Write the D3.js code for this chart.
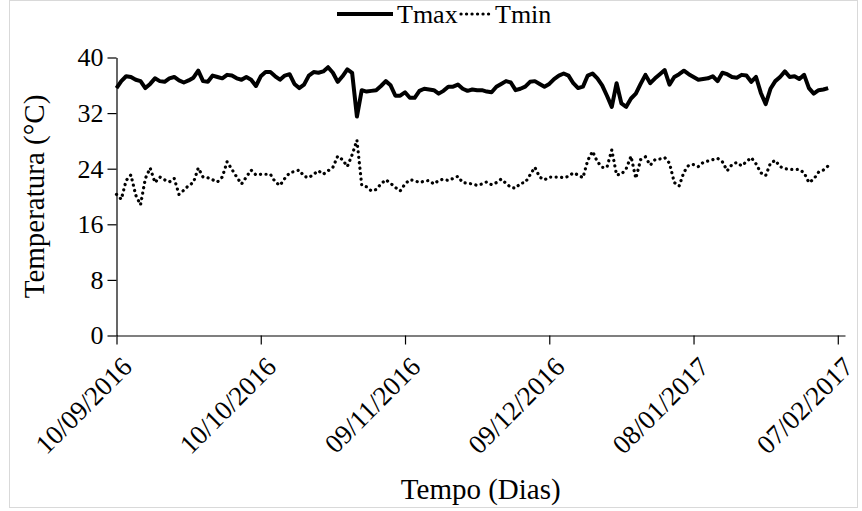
<!DOCTYPE html>
<html>
<head>
<meta charset="utf-8">
<script src="https://cdn.jsdelivr.net/npm/d3@7"></script>
<style>
  html, body { margin: 0; padding: 0; background: #fff; }
  #chart text { font-family: "Liberation Serif", "Times New Roman", Georgia !important; }
</style>
</head>
<body>
<div id="chart"></div>
<script>
/* Daily Tmax / Tmin, 10/09/2016 onwards (one value per day) */
const START_DATE = '2016-09-10';
const tmax = [
  35.6, 36.6, 37.3, 37.2, 36.8, 36.6, 35.6, 36.2, 37.0, 36.6,
  36.5, 37.0, 37.2, 36.7, 36.4, 36.7, 37.1, 38.1, 36.6, 36.5,
  37.4, 37.2, 37.0, 37.5, 37.4, 37.0, 36.8, 37.2, 36.8, 35.9,
  37.3, 37.9, 37.9, 37.3, 36.8, 37.4, 37.6, 36.2, 35.6, 36.1,
  37.4, 37.9, 37.8, 38.0, 38.6, 37.8, 36.5, 37.3, 38.3, 37.8,
  31.5, 35.3, 35.1, 35.2, 35.3, 35.9, 36.6, 36.0, 34.5, 34.5,
  35.0, 34.2, 34.2, 35.2, 35.5, 35.4, 35.3, 34.8, 35.2, 35.8,
  35.8, 36.1, 35.5, 35.2, 35.4, 35.3, 35.3, 35.1, 35.0, 35.8,
  36.2, 36.6, 36.4, 35.3, 35.5, 35.8, 36.5, 36.6, 36.2, 35.8,
  36.2, 36.9, 37.4, 37.7, 37.4, 36.3, 35.6, 35.8, 37.4, 37.7,
  37.0, 36.0, 34.5, 32.9, 36.3, 33.4, 32.9, 34.1, 34.8, 36.2,
  37.5, 36.3, 37.0, 37.6, 38.2, 36.1, 37.2, 37.6, 38.1, 37.6,
  37.2, 36.8, 36.9, 37.0, 37.3, 36.6, 37.8, 37.6, 37.2, 37.1,
  37.5, 37.4, 36.5, 37.2, 34.9, 33.3, 35.5, 36.6, 37.2, 38.0,
  37.2, 37.3, 36.9, 37.5, 35.6, 34.8, 35.3, 35.4, 35.6
];
const tmin = [
  20.3, 19.6, 22.3, 23.1, 20.2, 18.8, 22.6, 24.1, 22.0, 22.8,
  22.4, 22.1, 22.6, 20.3, 20.9, 21.6, 22.0, 24.1, 22.8, 22.7,
  22.4, 22.1, 22.8, 25.0, 23.9, 22.8, 21.8, 22.8, 23.8, 23.1,
  23.2, 23.2, 23.2, 22.1, 21.6, 22.6, 23.4, 23.6, 23.8, 22.9,
  22.7, 23.2, 23.7, 23.2, 23.7, 24.2, 25.8, 25.3, 24.3, 26.0,
  28.1, 21.6, 21.4, 20.8, 21.0, 21.8, 22.4, 21.9, 21.3, 20.8,
  21.8, 22.4, 22.3, 22.0, 22.2, 22.3, 21.8, 22.3, 22.5, 22.3,
  22.6, 22.9, 22.0, 21.9, 21.8, 21.6, 21.8, 22.1, 21.7, 22.0,
  22.5, 21.9, 21.3, 21.2, 21.9, 22.0, 23.1, 24.2, 22.8, 22.4,
  22.8, 22.8, 22.8, 22.7, 22.9, 23.4, 23.1, 22.7, 25.2, 26.5,
  25.0, 24.2, 24.2, 26.7, 23.1, 23.2, 24.0, 25.8, 22.6, 25.3,
  25.7, 24.5, 25.3, 25.4, 25.6, 24.8, 22.0, 21.5, 23.5, 24.5,
  24.6, 24.3, 24.9, 25.1, 25.3, 25.5, 25.0, 23.7, 24.6, 24.9,
  24.4, 25.0, 25.6, 24.7, 23.4, 23.0, 24.8, 25.2, 24.3, 24.0,
  23.9, 23.9, 23.9, 23.4, 22.0, 22.5, 23.5, 23.8, 24.4
];
const xTickLabels = ['10/09/2016', '10/10/2016', '09/11/2016', '09/12/2016', '08/01/2017', '07/02/2017'];
const yTicks = [0, 8, 16, 24, 32, 40];
const seriesNames = ['Tmax', 'Tmin'];

/* ── Layout ─────────────────────────────────────────────── */
const W = 862, H = 511;
const M = { left: 116.5, right: 845, top: 57.5, bottom: 335.5 };
const FONT = 'Liberation Serif';

const parse = d3.utcParse('%d/%m/%Y');
const start = d3.utcParse('%Y-%m-%d')(START_DATE);
const dayAt = i => d3.utcDay.offset(start, i);
const rows = tmax.map((v, i) => ({ date: dayAt(i), tmax: v, tmin: tmin[i] }));

const x = d3.scaleUtc()
  .domain([start, d3.utcHour.offset(start, 151.5 * 24)])
  .range([M.left, M.right]);
const y = d3.scaleLinear().domain([0, 40]).range([M.bottom, M.top]);

const svg = d3.select('#chart').append('svg')
  .attr('width', W).attr('height', H)
  .attr('font-family', FONT);

// chart area frame
svg.append('rect')
  .attr('x', 9.5).attr('y', 0.5)
  .attr('width', W - 14).attr('height', H - 4)
  .attr('fill', '#fff').attr('stroke', '#d9d9d9').attr('stroke-width', 1);

/* ── Axes ───────────────────────────────────────────────── */
const yAxis = svg.append('g')
  .attr('transform', `translate(${M.left},0)`)
  .call(d3.axisLeft(y).tickValues(yTicks).tickSize(9).tickPadding(4).tickSizeOuter(0));
yAxis.attr('font-family', FONT).attr('font-size', 26);
yAxis.select('.domain').attr('stroke', '#000').attr('stroke-width', 1.2);
yAxis.selectAll('.tick line').attr('stroke', '#000').attr('stroke-width', 1.2);
yAxis.selectAll('.tick text').attr('fill', '#000');

const xAxis = svg.append('g')
  .attr('transform', `translate(0,${M.bottom})`)
  .call(d3.axisBottom(x).tickValues(xTickLabels.map(parse)).tickSize(9).tickSizeOuter(0).tickFormat(''));
xAxis.select('.domain').attr('stroke', '#000').attr('stroke-width', 1.2);
xAxis.selectAll('.tick line').attr('stroke', '#000').attr('stroke-width', 1.2);
xAxis.selectAll('.tick text').remove();

svg.append('g').selectAll('text')
  .data(xTickLabels)
  .join('text')
  .attr('transform', d => `translate(${x(parse(d)) + 17},${M.bottom + 33}) rotate(-45)`)
  .attr('text-anchor', 'end')
  .attr('font-family', FONT)
  .attr('font-size', 27)
  .attr('fill', '#000')
  .text(d => d);

// axis titles
svg.append('text')
  .attr('transform', `translate(44,${(M.top + M.bottom) / 2}) rotate(-90)`)
  .attr('text-anchor', 'middle')
  .attr('font-family', FONT)
  .attr('font-size', 29)
  .text('Temperatura (°C)');

svg.append('text')
  .attr('x', (M.left + M.right) / 2).attr('y', 499)
  .attr('text-anchor', 'middle')
  .attr('font-family', FONT)
  .attr('font-size', 29)
  .text('Tempo (Dias)');

/* ── Series ─────────────────────────────────────────────── */
const lineMax = d3.line().x(d => x(d.date)).y(d => y(d.tmax));
const lineMin = d3.line().x(d => x(d.date)).y(d => y(d.tmin));

svg.append('path')
  .datum(rows)
  .attr('d', lineMin)
  .attr('fill', 'none').attr('stroke', '#000')
  .attr('stroke-width', 3.2)
  .attr('stroke-linecap', 'round')
  .attr('stroke-dasharray', '0.1 5.4');

svg.append('path')
  .datum(rows)
  .attr('d', lineMax)
  .attr('fill', 'none').attr('stroke', '#000')
  .attr('stroke-width', 4)
  .attr('stroke-linejoin', 'round');

/* ── Legend ─────────────────────────────────────────────── */
const legend = svg.append('g').attr('font-family', FONT);
legend.append('line')
  .attr('x1', 337).attr('x2', 393).attr('y1', 14).attr('y2', 14)
  .attr('stroke', '#000').attr('stroke-width', 4);
legend.append('text')
  .attr('x', 397).attr('y', 23).attr('font-size', 26)
  .text(seriesNames[0]);
legend.append('line')
  .attr('x1', 461).attr('x2', 490).attr('y1', 14).attr('y2', 14)
  .attr('stroke', '#000').attr('stroke-width', 3.2)
  .attr('stroke-linecap', 'round')
  .attr('stroke-dasharray', '0.1 5.4');
legend.append('text')
  .attr('x', 495).attr('y', 23).attr('font-size', 26)
  .text(seriesNames[1]);
</script>
</body>
</html>
